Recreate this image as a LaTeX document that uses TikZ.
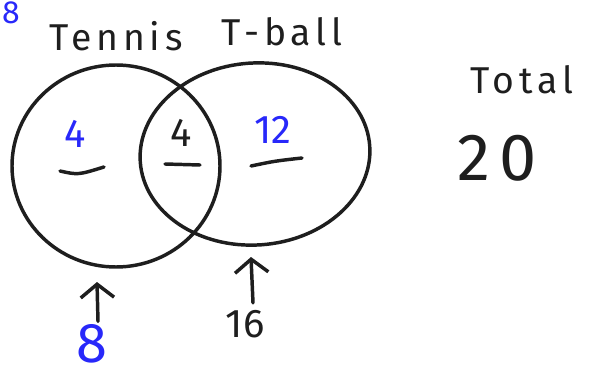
\documentclass[tikz,border=0pt]{standalone}
\usepackage{fontspec}
\setmainfont{Fira Sans}
\newfontfamily\spreadfont[LetterSpace=13]{Fira Sans}
\usetikzlibrary{positioning,arrows.meta}
\definecolor{penblue}{RGB}{40,40,250}
\definecolor{penblack}{RGB}{30,30,30}
\tikzset{
    ring/.style={draw=penblack, line width=2.6pt},
    word/.style={font=\spreadfont\fontsize{28}{28}\selectfont, text=penblack, inner sep=0pt},
    count/.style={font=\fontsize{30}{30}\selectfont, inner sep=0pt},
    dash line/.style={draw=penblack, line width=2.6pt, line cap=round},
    pointer/.style={draw=penblack, line width=2.6pt, line cap=round,
        -{Straight Barb[length=10pt, width=25pt, line width=2.6pt]}}
}
\begin{document}
\begin{tikzpicture}[x=0.75pt, y=-0.75pt]
    \useasboundingbox (0,0) rectangle (589,378);

    % the two sets
    \draw[ring] (116,166) ellipse (104 and 101);
    \draw[ring, rotate around={4:(255,154)}] (255,154) ellipse (115 and 91);

    % set names
    \node[word] (tennis) at (116,36) {Tennis};
    \node[word] (tball) at (282,32) {T-ball};
    \node[font=\fontsize{24}{24}\selectfont, text=penblue, inner sep=0pt] (topeight) at (11,13) {8};

    % counts in the regions
    \node[count, text=penblue] (onlytennis) at (75,134) {4};
    \node[count, text=penblack] (both) at (181,133) {4};
    \node[count, text=penblue] (onlytball) at (273,130) {12};
    \draw[dash line] (60,171) .. controls (78,175) .. (104,167);
    \draw[dash line] (165,164) -- (200,165);
    \draw[dash line] (251,166) .. controls (275,161) .. (302,158);

    % totals of each set
    \node[font=\fontsize{42}{42}\selectfont, text=penblue, inner sep=0pt] (tennistotal) at (92,344) {8};
    \node[count, text=penblack] (tballtotal) at (245,324) {16};
    \coordinate (tennisbottom) at (97,282);
    \coordinate (tballbottom) at (251,257);
    \draw[pointer] (tennistotal.north) ++(6,-3) -- (tennisbottom);
    \draw[pointer] (tballtotal.north) ++(8,-7) -- (tballbottom);

    % grand total
    \node[word] (totalword) at (522,80) {Total};
    \node[font=\spreadfont\fontsize{50}{50}\selectfont, text=penblack, inner sep=0pt] (grand) at (497,158) {20};
\end{tikzpicture}
\end{document}
